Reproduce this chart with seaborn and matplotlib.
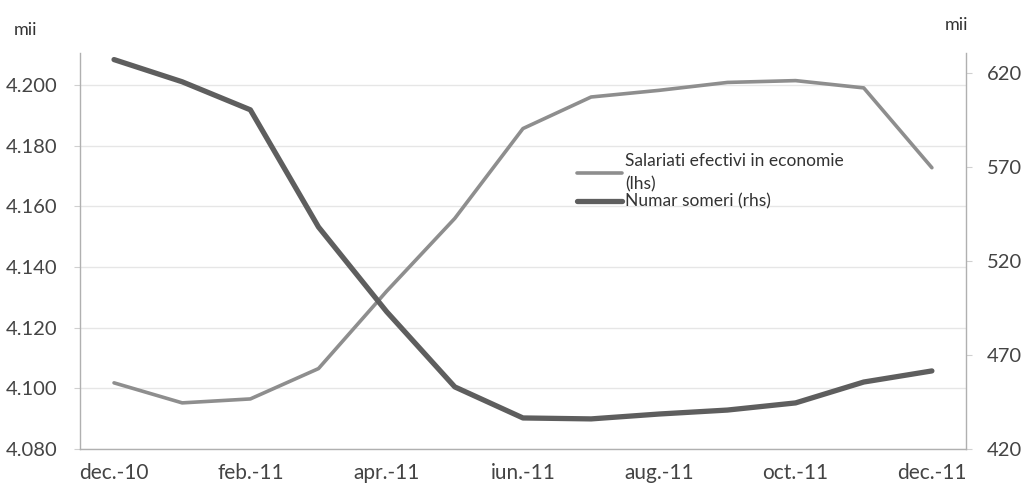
import pandas as pd
import matplotlib
matplotlib.use('Agg')
import matplotlib.pyplot as plt
from matplotlib.ticker import FuncFormatter, FixedLocator
import seaborn as sns

# Date
luni = ['dec.-10', 'ian.-11', 'feb.-11', 'mar.-11', 'apr.-11', 'mai.-11', 'iun.-11',
        'iul.-11', 'aug.-11', 'sep.-11', 'oct.-11', 'nov.-11', 'dec.-11']
salariati = [4.1018, 4.0952, 4.0965, 4.1065, 4.1320, 4.1560, 4.1856,
             4.1960, 4.1982, 4.2008, 4.2014, 4.1990, 4.1727]
someri = [627.0, 615.2, 600.3, 538.0, 493.0, 453.0, 436.5,
          436.0, 438.6, 440.7, 444.5, 455.6, 461.5]

df = pd.DataFrame({'luna': luni, 'poz': range(len(luni)),
                   'salariati': salariati, 'someri': someri})

sns.set_style('white')
plt.rcParams['font.family'] = ['Lato', 'DejaVu Sans']

fig = plt.figure(figsize=(10.25, 5), dpi=100)
ax = fig.add_axes([0.078, 0.102, 0.8644, 0.792])
ax2 = ax.twinx()

sns.lineplot(data=df, x='poz', y='salariati', ax=ax, color='#8e8e8e', linewidth=2.6,
             label='Salariati efectivi in economie\n(lhs)', legend=False)
sns.lineplot(data=df, x='poz', y='someri', ax=ax2, color='#5e5e5e', linewidth=3.8,
             label='Numar someri (rhs)', legend=False)

ax.set_xlim(-0.5, 12.5)
ax.set_ylim(4.080, 4.2105)
ax2.set_ylim(420, 630.5)

ax.set_yticks([4.080, 4.100, 4.120, 4.140, 4.160, 4.180, 4.200])
ax.yaxis.set_major_formatter(FuncFormatter(lambda v, p: f'{v:.3f}'))
ax2.set_yticks([420, 470, 520, 570, 620])

ax.set_xticks(df['poz'][::2])
ax.set_xticklabels(df['luna'][::2])
ax.xaxis.set_minor_locator(FixedLocator([-0.5 + 2 * k for k in range(7)]))

ax.grid(axis='y', color='#e6e6e6', linewidth=1)
ax.set_xlabel('')
ax.set_ylabel('')
ax2.set_ylabel('')

for a in (ax, ax2):
    for s in a.spines.values():
        s.set_visible(False)
    a.tick_params(colors='#444444', labelsize=14.5)
ax.spines['left'].set_visible(True)
ax.spines['bottom'].set_visible(True)
ax2.spines['right'].set_visible(True)
for s in (ax.spines['left'], ax.spines['bottom'], ax2.spines['right']):
    s.set_color('#b0b0b0')
    s.set_linewidth(1)

ax.tick_params(axis='x', which='major', length=0, pad=10, labelsize=15)
ax.tick_params(axis='x', which='minor', length=5, color='#b0b0b0')
ax.tick_params(axis='y', length=4, color='#d0d0d0', pad=12)
ax2.tick_params(axis='y', length=4, color='#d0d0d0', pad=11)

fig.text(0.013, 0.93, 'mii', fontsize=13, color='#333333')
fig.text(0.922, 0.94, 'mii', fontsize=13, color='#333333')

h1, l1 = ax.get_legend_handles_labels()
h2, l2 = ax2.get_legend_handles_labels()
leg = ax2.legend(h1 + h2, l1 + l2, loc='upper left', bbox_to_anchor=(0.548, 0.726),
                 bbox_transform=fig.transFigure, frameon=False, fontsize=12.5,
                 handlelength=2.6, handletextpad=0.15, labelspacing=0.1,
                 labelcolor='#333333')
for t in leg.get_texts():
    t.set_linespacing(1.55)

fig.savefig('out.png', dpi=100)
